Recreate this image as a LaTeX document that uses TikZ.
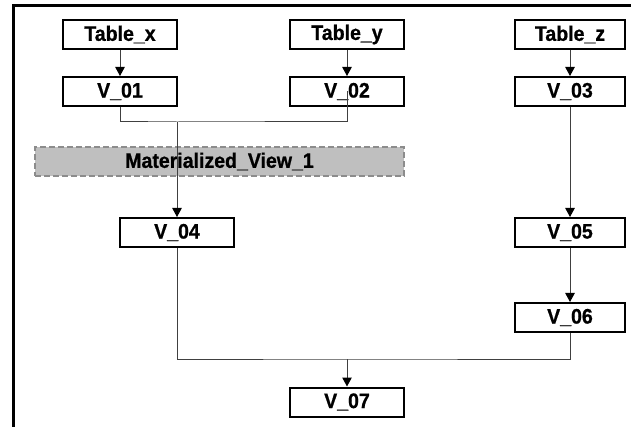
\documentclass[tikz,border=0pt]{standalone}
\usepackage{fontspec}
\setmainfont{Liberation Sans}
\newfontfamily\boxfont{Liberation Sans Bold}[FakeStretch=0.93, FakeBold=0.8]
\usetikzlibrary{arrows.meta}
\tikzset{
  tbl/.style={draw, line width=2pt, fill=white, minimum width=114pt, minimum height=29pt,
    inner sep=0pt, font=\fontsize{21}{22}\boxfont},
  wire/.style={line width=1pt, black!75},
  arr/.style={wire, -{Triangle[length=9pt,width=9.5pt,black]}},
}
\begin{document}
\begin{tikzpicture}[x=1pt,y=-1pt]
  \useasboundingbox (0,0) rectangle (631,427);
  % frame
  \draw[line width=3pt] (13,427) -- (13,5.5) -- (631,5.5);
  % materialized view
  \node[draw=black!45, dash pattern=on 6pt off 3pt, line width=1.5pt, fill=black!25,
    minimum width=369pt, minimum height=29pt, inner sep=0pt,
    font=\fontsize{21}{22}\boxfont] (mv) at (219.5,161.5) {Materialized\_View\_1};
  % tables and views
  \foreach \x/\y/\n/\t in {120/34.5/tx/Table\_x, 347/34.5/ty/Table\_y,
      120/91.5/v01/V\_01, 347/91.5/v02/V\_02, 177/232.5/v04/V\_04, 347/402/v07/V\_07}
    \node[tbl] (\n) at (\x,\y) {\t};
  \foreach \y/\n/\t in {34.5/tz/Table\_z, 91.5/v03/V\_03, 232.5/v05/V\_05, 317.5/v06/V\_06}
    \node[tbl, minimum width=110pt] (\n) at (570,\y) {\t};
  \coordinate (j1) at (177,122);
  \coordinate (j2) at (347,359);
  \foreach \a/\b in {tx/v01, ty/v02, tz/v03, v03/v05, v05/v06}
    \draw[arr] (\a) -- (\b);
  \draw[wire] (v01.south) |- (j1) -| (v02.center);
  \draw[arr] (j1) -- (v04);
  \draw[wire] (v04.south) |- (j2) -| (v06.south);
  \draw[arr] (j2) -- (v07);
\end{tikzpicture}
\end{document}
